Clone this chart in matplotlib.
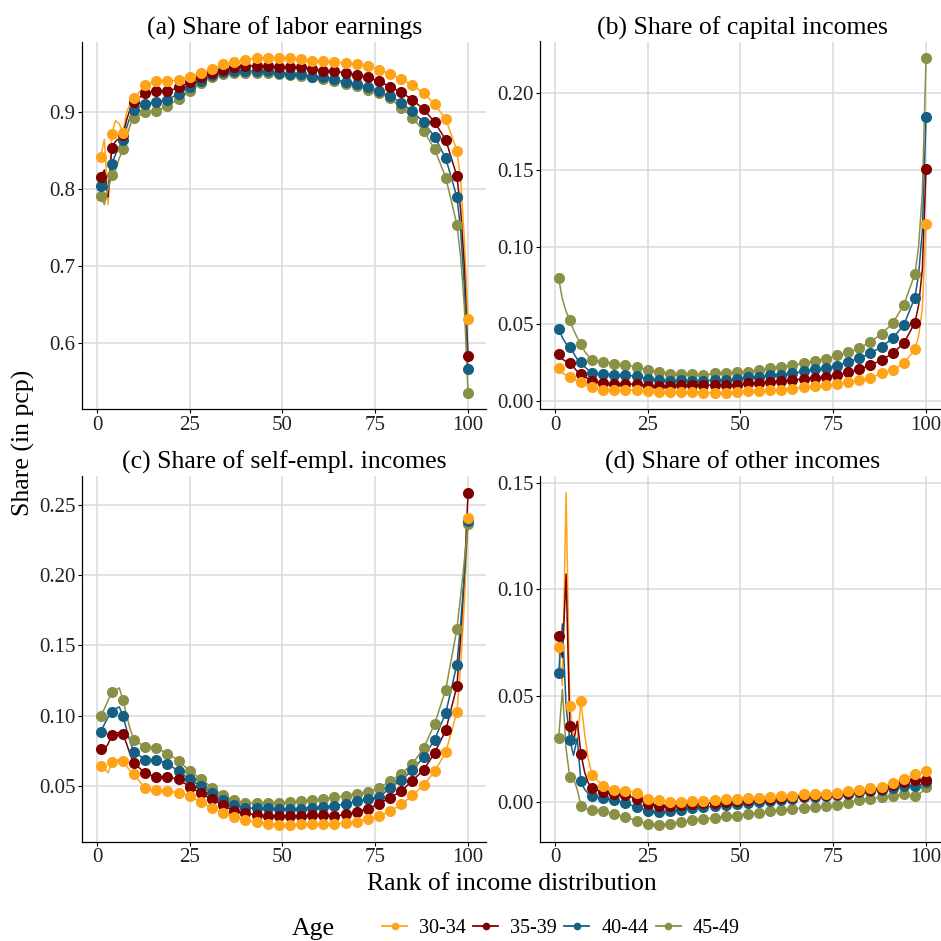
import numpy as np
import matplotlib
matplotlib.use("Agg")
import matplotlib.pyplot as plt
from matplotlib.lines import Line2D

plt.rcParams['font.family'] = ['Liberation Serif', 'DejaVu Serif']

# ---------------- data ----------------
ranks_pts = list(range(1, 101, 3))          # ranks with markers
ranks_extra = [2, 3, 5, 6, 8, 9, 98, 99]    # extra ranks on the line only
ages = ["30-34", "35-39", "40-44", "45-49"]
colors = ["#FFA319", "#800000", "#155F83", "#8A9045"]
titles = ["(a) Share of labor earnings", "(b) Share of capital incomes",
          "(c) Share of self-empl. incomes", "(d) Share of other incomes"]

# (a) labor earnings
labor_30_34 = [0.842, 0.872, 0.873, 0.918, 0.935, 0.940, 0.940, 0.942, 0.946, 0.951, 0.956, 0.962, 0.965, 0.968, 0.970, 0.970, 0.970,
               0.970, 0.969, 0.967, 0.966, 0.965, 0.964, 0.962, 0.960, 0.955, 0.950, 0.943, 0.935, 0.925, 0.910, 0.891, 0.850, 0.632]
labor_35_39 = [0.816, 0.854, 0.870, 0.913, 0.925, 0.927, 0.927, 0.932, 0.939, 0.946, 0.951, 0.955, 0.958, 0.960, 0.960, 0.960, 0.959,
               0.958, 0.958, 0.956, 0.954, 0.953, 0.951, 0.948, 0.945, 0.940, 0.933, 0.926, 0.916, 0.904, 0.887, 0.864, 0.817, 0.583]
labor_40_44 = [0.804, 0.833, 0.864, 0.903, 0.911, 0.913, 0.916, 0.924, 0.933, 0.941, 0.948, 0.952, 0.953, 0.954, 0.953, 0.953, 0.951,
               0.950, 0.950, 0.946, 0.945, 0.943, 0.939, 0.936, 0.933, 0.927, 0.921, 0.912, 0.901, 0.887, 0.868, 0.840, 0.790, 0.566]
labor_45_49 = [0.791, 0.818, 0.852, 0.893, 0.900, 0.901, 0.908, 0.917, 0.927, 0.938, 0.945, 0.949, 0.951, 0.951, 0.951, 0.951, 0.949,
               0.948, 0.947, 0.945, 0.943, 0.941, 0.936, 0.934, 0.929, 0.925, 0.918, 0.906, 0.893, 0.876, 0.852, 0.815, 0.754, 0.536]
labor_30_34_extra = [0.865, 0.780, 0.889, 0.885, 0.900, 0.912, 0.813, 0.735]
labor_35_39_extra = [0.825, 0.790, 0.862, 0.866, 0.890, 0.905, 0.774, 0.700]
labor_40_44_extra = [0.812, 0.800, 0.845, 0.855, 0.880, 0.895, 0.748, 0.674]
labor_45_49_extra = [0.780, 0.800, 0.825, 0.840, 0.868, 0.884, 0.713, 0.648]

# (b) capital incomes
capital_30_34 = [0.0211, 0.0152, 0.0119, 0.0087, 0.0072, 0.0072, 0.0070, 0.0068, 0.0065, 0.0060, 0.0056, 0.0058, 0.0058, 0.0053, 0.0053,
                 0.0053, 0.0058, 0.0062, 0.0064, 0.0068, 0.0073, 0.0079, 0.0086, 0.0095, 0.0101, 0.0107, 0.0119, 0.0134, 0.0149,
                 0.0177, 0.0199, 0.0242, 0.0333, 0.1149]
capital_35_39 = [0.0305, 0.0243, 0.0174, 0.0126, 0.0115, 0.0110, 0.0110, 0.0107, 0.0098, 0.0095, 0.0098, 0.0103, 0.0101, 0.0101, 0.0101,
                 0.0101, 0.0105, 0.0112, 0.0116, 0.0123, 0.0127, 0.0134, 0.0142, 0.0150, 0.0155, 0.0166, 0.0184, 0.0203, 0.0231,
                 0.0264, 0.0308, 0.0373, 0.0507, 0.1507]
capital_40_44 = [0.0468, 0.0348, 0.0250, 0.0181, 0.0174, 0.0170, 0.0165, 0.0160, 0.0141, 0.0135, 0.0130, 0.0134, 0.0129, 0.0129, 0.0134,
                 0.0134, 0.0138, 0.0151, 0.0155, 0.0166, 0.0170, 0.0177, 0.0192, 0.0203, 0.0210, 0.0227, 0.0253, 0.0275, 0.0308,
                 0.0350, 0.0405, 0.0492, 0.0670, 0.1840]
capital_45_49 = [0.0794, 0.0526, 0.0370, 0.0267, 0.0250, 0.0240, 0.0235, 0.0217, 0.0202, 0.0187, 0.0176, 0.0172, 0.0174, 0.0166, 0.0177,
                 0.0181, 0.0184, 0.0188, 0.0199, 0.0210, 0.0220, 0.0231, 0.0244, 0.0257, 0.0270, 0.0297, 0.0314, 0.0340, 0.0383,
                 0.0433, 0.0503, 0.0622, 0.0822, 0.2224]
capital_30_34_extra = [0.0180, 0.0165, 0.0140, 0.0130, 0.0110, 0.0095, 0.0420, 0.0600]
capital_35_39_extra = [0.0270, 0.0255, 0.0220, 0.0190, 0.0160, 0.0140, 0.0620, 0.0850]
capital_40_44_extra = [0.0410, 0.0370, 0.0310, 0.0270, 0.0220, 0.0200, 0.0820, 0.1100]
capital_45_49_extra = [0.0660, 0.0580, 0.0460, 0.0410, 0.0320, 0.0290, 0.1000, 0.1350]

# (c) self-employment incomes
selfemp_30_34 = [0.0642, 0.0670, 0.0677, 0.0583, 0.0484, 0.0470, 0.0465, 0.0453, 0.0429, 0.0387, 0.0347, 0.0311, 0.0280, 0.0260, 0.0245,
                 0.0232, 0.0225, 0.0225, 0.0228, 0.0228, 0.0228, 0.0233, 0.0240, 0.0247, 0.0264, 0.0287, 0.0323, 0.0370, 0.0434,
                 0.0505, 0.0606, 0.0741, 0.1028, 0.2406]
selfemp_35_39 = [0.0765, 0.0860, 0.0867, 0.0666, 0.0590, 0.0567, 0.0567, 0.0548, 0.0496, 0.0448, 0.0406, 0.0363, 0.0323, 0.0310, 0.0295,
                 0.0290, 0.0288, 0.0288, 0.0287, 0.0292, 0.0292, 0.0287, 0.0299, 0.0318, 0.0339, 0.0375, 0.0417, 0.0465, 0.0540,
                 0.0614, 0.0737, 0.0897, 0.1210, 0.2585]
selfemp_40_44 = [0.0883, 0.1025, 0.1001, 0.0744, 0.0689, 0.0689, 0.0661, 0.0606, 0.0548, 0.0500, 0.0453, 0.0401, 0.0366, 0.0345, 0.0343,
                 0.0343, 0.0340, 0.0340, 0.0340, 0.0347, 0.0354, 0.0359, 0.0375, 0.0394, 0.0406, 0.0422, 0.0488, 0.0543, 0.0612,
                 0.0706, 0.0831, 0.1020, 0.1363, 0.2380]
selfemp_45_49 = [0.0996, 0.1167, 0.1115, 0.0826, 0.0779, 0.0772, 0.0732, 0.0682, 0.0606, 0.0552, 0.0489, 0.0434, 0.0399, 0.0382, 0.0378,
                 0.0378, 0.0380, 0.0385, 0.0394, 0.0401, 0.0406, 0.0422, 0.0429, 0.0446, 0.0460, 0.0488, 0.0536, 0.0588, 0.0658,
                 0.0768, 0.0942, 0.1186, 0.1616, 0.2360]
selfemp_30_34_extra = [0.0625, 0.0595, 0.0680, 0.0690, 0.0640, 0.0610, 0.1350, 0.1800]
selfemp_35_39_extra = [0.0760, 0.0800, 0.0880, 0.0880, 0.0800, 0.0720, 0.1550, 0.2000]
selfemp_40_44_extra = [0.0940, 0.0990, 0.1050, 0.1063, 0.0900, 0.0810, 0.1650, 0.2000]
selfemp_45_49_extra = [0.1050, 0.1110, 0.1180, 0.1198, 0.1000, 0.0900, 0.1850, 0.2100]

# (d) other incomes
other_30_34 = [0.0731, 0.0454, 0.0474, 0.0128, 0.0075, 0.0059, 0.0054, 0.0044, 0.0016, 0.0008, 0.0000, 0.0002, 0.0003, 0.0005, 0.0011,
               0.0013, 0.0016, 0.0019, 0.0021, 0.0024, 0.0027, 0.0031, 0.0036, 0.0036, 0.0039, 0.0044, 0.0050, 0.0059, 0.0065,
               0.0070, 0.0090, 0.0109, 0.0130, 0.0146]
other_35_39 = [0.0779, 0.0360, 0.0227, 0.0066, 0.0047, 0.0039, 0.0034, 0.0016, -0.0008, -0.0016, -0.0019, -0.0014, -0.0010, -0.0006,
               -0.0002, 0.0002, 0.0006, 0.0010, 0.0013, 0.0017, 0.0021, 0.0025, 0.0030, 0.0032, 0.0035, 0.0040, 0.0045, 0.0052,
               0.0058, 0.0064, 0.0080, 0.0095, 0.0105, 0.0105]
other_40_44 = [0.0607, 0.0293, 0.0097, 0.0028, 0.0019, 0.0011, -0.0005, -0.0023, -0.0040, -0.0048, -0.0040, -0.0036, -0.0027, -0.0024,
               -0.0020, -0.0013, -0.0008, -0.0003, 0.0002, 0.0007, 0.0012, 0.0017, 0.0022, 0.0026, 0.0030, 0.0035, 0.0040, 0.0046,
               0.0052, 0.0058, 0.0065, 0.0078, 0.0078, 0.0094]
other_45_49 = [0.0301, 0.0117, -0.0016, -0.0036, -0.0040, -0.0058, -0.0071, -0.0087, -0.0102, -0.0107, -0.0102, -0.0095, -0.0086,
               -0.0078, -0.0075, -0.0066, -0.0063, -0.0055, -0.0050, -0.0042, -0.0036, -0.0031, -0.0027, -0.0023, -0.0020, -0.0013,
               -0.0003, 0.0012, 0.0016, 0.0024, 0.0031, 0.0036, 0.0027, 0.0071]
other_30_34_extra = [0.0548, 0.1455, 0.0300, 0.0290, 0.0320, 0.0200, 0.0135, 0.0140]
other_35_39_extra = [0.0680, 0.1072, 0.0280, 0.0380, 0.0140, 0.0090, 0.0105, 0.0105]
other_40_44_extra = [0.0838, 0.0450, 0.0220, 0.0300, 0.0060, 0.0040, 0.0080, 0.0085]
other_45_49_extra = [0.0530, 0.0250, 0.0110, 0.0060, -0.0030, -0.0035, 0.0035, 0.0050]

panels = [
    ([labor_30_34, labor_35_39, labor_40_44, labor_45_49],
     [labor_30_34_extra, labor_35_39_extra, labor_40_44_extra, labor_45_49_extra]),
    ([capital_30_34, capital_35_39, capital_40_44, capital_45_49],
     [capital_30_34_extra, capital_35_39_extra, capital_40_44_extra, capital_45_49_extra]),
    ([selfemp_30_34, selfemp_35_39, selfemp_40_44, selfemp_45_49],
     [selfemp_30_34_extra, selfemp_35_39_extra, selfemp_40_44_extra, selfemp_45_49_extra]),
    ([other_30_34, other_35_39, other_40_44, other_45_49],
     [other_30_34_extra, other_35_39_extra, other_40_44_extra, other_45_49_extra]),
]
yticks = [[0.6, 0.7, 0.8, 0.9], [0.0, 0.05, 0.10, 0.15, 0.20],
          [0.05, 0.10, 0.15, 0.20, 0.25], [0.0, 0.05, 0.10, 0.15]]
yfmt = ["{:.1f}", "{:.2f}", "{:.2f}", "{:.2f}"]
xticks = [0, 25, 50, 75, 100]

# ---------------- figure ----------------
W = 941.0
fig = plt.figure(figsize=(9.41, 9.41), dpi=100)
# pixel boxes (left, right, top, bottom)
boxes = [(82.3, 486.4, 41.5, 409.3), (540.3, 944.4, 41.5, 409.3),
         (82.3, 486.4, 476.0, 841.5), (540.3, 944.4, 476.0, 841.5)]

grid_col = "#DADADA"
for k, (pts_list, extra_list) in enumerate(panels):
    l, r, t, b = boxes[k]
    ax = fig.add_axes([l / W, 1 - b / W, (r - l) / W, (b - t) / W])
    for i in range(4):
        rr = np.array(ranks_pts + ranks_extra)
        vv = np.array(pts_list[i] + extra_list[i])
        order = np.argsort(rr)
        ax.plot(rr[order], vv[order], color=colors[i], lw=1.1, zorder=2,
                solid_joinstyle='round')
    for i in [3, 2, 1, 0]:
        ax.plot(ranks_pts, pts_list[i], linestyle='none', marker='o', ms=8.0,
                mfc=colors[i], mec='none', zorder=3 + (3 - i))
    ax.set_xlim(-3.95, 104.95)
    ax.margins(y=0.05)
    ax.set_xticks(xticks)
    ax.set_xticklabels([str(v) for v in xticks])
    ax.set_yticks(yticks[k])
    ax.set_yticklabels([yfmt[k].format(v) for v in yticks[k]])
    ax.grid(True, color=grid_col, lw=1.1, zorder=0)
    ax.set_axisbelow(True)
    for s in ["top", "right"]:
        ax.spines[s].set_visible(False)
    for s in ["left", "bottom"]:
        ax.spines[s].set_color("black")
        ax.spines[s].set_linewidth(0.9)
    ax.tick_params(axis='both', direction='out', length=3.0, width=0.8,
                   color='black', labelsize=15, labelcolor='#222222', pad=2)
    ax.set_title(titles[k], fontsize=18.5, pad=5, color='black')

fig.text(23 / W, 1 - 443 / W, "Share (in pcp)", rotation=90, fontsize=18.5,
         ha='center', va='center')
fig.text(512 / W, 1 - 884 / W, "Rank of income distribution", fontsize=18.5,
         ha='center', va='center')

fig.text(292 / W, 1 - 929 / W, "Age", fontsize=18.5, ha='left', va='center')
handles = [Line2D([0], [0], color=colors[i], lw=1.3, marker='o', ms=5.5, mec='none')
           for i in range(4)]
fig.legend(handles, ages, loc='center', bbox_to_anchor=(561 / W, 1 - 928 / W),
           ncol=4, frameon=False, fontsize=14.5, handlelength=1.25,
           handletextpad=0.6, columnspacing=0.35, borderpad=0, borderaxespad=0)

fig.savefig("out.png", dpi=100)
